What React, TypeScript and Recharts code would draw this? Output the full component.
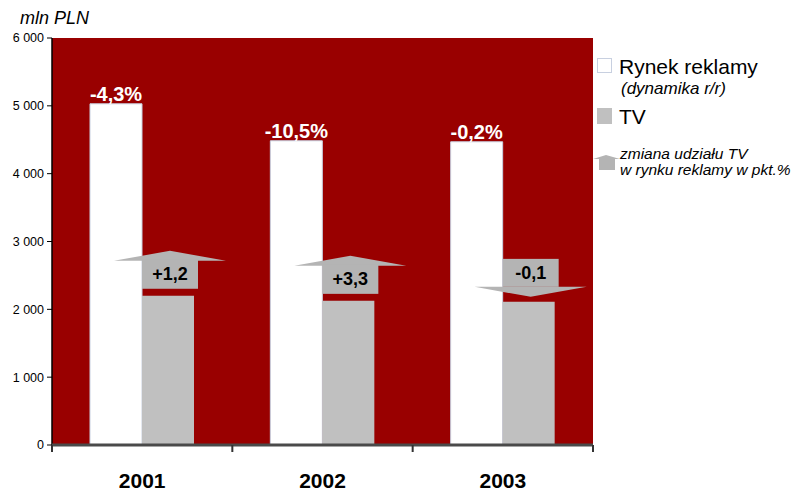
import React from "react";
import {
  BarChart, Bar, XAxis, YAxis, CartesianGrid, LabelList, Customized,
} from "recharts";

// values in mln PLN
const categories = ["2001", "2002", "2003"];
const adMarket = [5030, 4485, 4470];
const tvMarket = [2200, 2125, 2110];
const marketChange = [-4.3, -10.5, -0.2];
const tvShareChange = [1.2, 3.3, -0.1];
const yTicks = [0, 1000, 2000, 3000, 4000, 5000, 6000];

const data = categories.map((year, i) => ({
  year,
  market: adMarket[i],
  tv: tvMarket[i],
  marketChange: marketChange[i],
  shareChange: tvShareChange[i],
}));

const FONT = "'Liberation Sans', Arial, sans-serif";
const W = 798;
const H = 492;
const PLOT_LEFT = 52;
const PLOT_RIGHT = 593;
const BAND = (PLOT_RIGHT - PLOT_LEFT) / categories.length;
const ARROW = "#b4b4b4";

const fmtThousands = (v: number) =>
  v === 0 ? "0" : `${Math.floor(v / 1000)} ${String(v % 1000).padStart(3, "0")}`;
const fmtComma = (v: number) => v.toFixed(1).replace(".", ",");

function YearTick(props: any) {
  const { x, y, payload, index } = props;
  const last = index === categories.length - 1;
  return (
    <g>
      <line x1={x - BAND / 2} y1={y} x2={x - BAND / 2} y2={y + 7} stroke="#333" strokeWidth={2} />
      {last && <line x1={x + BAND / 2} y1={y} x2={x + BAND / 2} y2={y + 7} stroke="#333" strokeWidth={2} />}
      <text x={x} y={y + 43} textAnchor="middle" fontFamily={FONT} fontSize={21} fontWeight="bold" fill="#000">
        {payload.value}
      </text>
    </g>
  );
}

// arrow showing change of TV share, sitting on top of the grey bar
function ShareArrow(props: any) {
  const { x, y, width, value } = props;
  const cx = x + width / 2 + 2;
  const bw = 56;
  const hw = 56;
  const label = (value > 0 ? "+" : "") + fmtComma(value);
  if (value >= 0) {
    const bottom = y - 7;
    const top = bottom - 29;
    const apex = top - 9;
    return (
      <g>
        <polygon points={`${cx - hw},${top + 1} ${cx},${apex} ${cx + hw},${top + 1}`} fill={ARROW} />
        <rect x={cx - bw / 2} y={top} width={bw} height={bottom - top} fill={ARROW} />
        <text x={cx} y={(top + bottom) / 2 + 6} textAnchor="middle" fontFamily={FONT} fontSize={18} fontWeight="bold" fill="#000">
          {label}
        </text>
      </g>
    );
  }
  const apex = y - 5;
  const base = apex - 10;
  const top = base - 28;
  return (
    <g>
      <rect x={cx - bw / 2} y={top} width={bw} height={base - top} fill={ARROW} />
      <polygon points={`${cx - hw},${base} ${cx},${apex} ${cx + hw},${base}`} fill={ARROW} />
      <text x={cx} y={(top + base) / 2 + 6} textAnchor="middle" fontFamily={FONT} fontSize={18} fontWeight="bold" fill="#000">
        {label}
      </text>
    </g>
  );
}

function Extras() {
  return (
    <g fontFamily={FONT}>
      <text x={20} y={24} fontSize={18} fontStyle="italic" fill="#000">mln PLN</text>
      {/* legend */}
      <rect x={597.5} y={58.5} width={14} height={14} fill="#fff" stroke="#c8d0e0" />
      <text x={619} y={74} fontSize={21} fill="#000">Rynek reklamy</text>
      <text x={621} y={94} fontSize={17} fontStyle="italic" fill="#000">(dynamika r/r)</text>
      <rect x={597} y={108} width={15} height={16} fill="#c0c0c0" />
      <text x={619} y={124} fontSize={21} fill="#000">TV</text>
      <polygon points="593,159 606,155 620,159" fill={ARROW} />
      <rect x={599} y={159} width={16} height={11} fill={ARROW} />
      <text x={620} y={159} fontSize={15.5} fontStyle="italic" fill="#000">zmiana udziału TV</text>
      <text x={620} y={175} fontSize={15.5} fontStyle="italic" fill="#000">w rynku reklamy w pkt.%</text>
    </g>
  );
}

export default function App() {
  return (
    <div style={{ position: "absolute", left: 0, top: 0, width: W, height: H, background: "#fff" }}>
      <BarChart
        width={W}
        height={H}
        data={data}
        margin={{ top: 38, right: W - PLOT_RIGHT, left: 0, bottom: 0 }}
        barSize={52}
        barGap={0}
      >
        <CartesianGrid horizontal={false} vertical={false} fill="#990000" />
        <YAxis
          width={PLOT_LEFT}
          domain={[0, 6000]}
          ticks={yTicks}
          interval={0}
          tickFormatter={fmtThousands}
          axisLine={{ stroke: "#000", strokeWidth: 1.5 }}
          tickLine={{ stroke: "#000" }}
          tickSize={5}
          tickMargin={3}
          tick={{ fill: "#000", fontSize: 12.5, fontFamily: FONT }}
        />
        <XAxis
          dataKey="year"
          height={47}
          axisLine={{ stroke: "#4a4a4a", strokeWidth: 3 }}
          tickLine={false}
          tickSize={0}
          tickMargin={0}
          interval={0}
          tick={<YearTick />}
        />
        <Bar dataKey="market" fill="#ffffff" stroke="#c8d0e0" strokeWidth={1} isAnimationActive={false}>
          <LabelList
            dataKey="marketChange"
            position="top"
            offset={3}
            formatter={(v: any) => `${fmtComma(Number(v))}%`}
            style={{ fill: "#fff", fontSize: 20, fontWeight: "bold", fontFamily: FONT }}
          />
        </Bar>
        <Bar dataKey="tv" fill="#c0c0c0" isAnimationActive={false}>
          <LabelList dataKey="shareChange" content={<ShareArrow />} />
        </Bar>
        <Customized component={<Extras />} />
      </BarChart>
    </div>
  );
}
